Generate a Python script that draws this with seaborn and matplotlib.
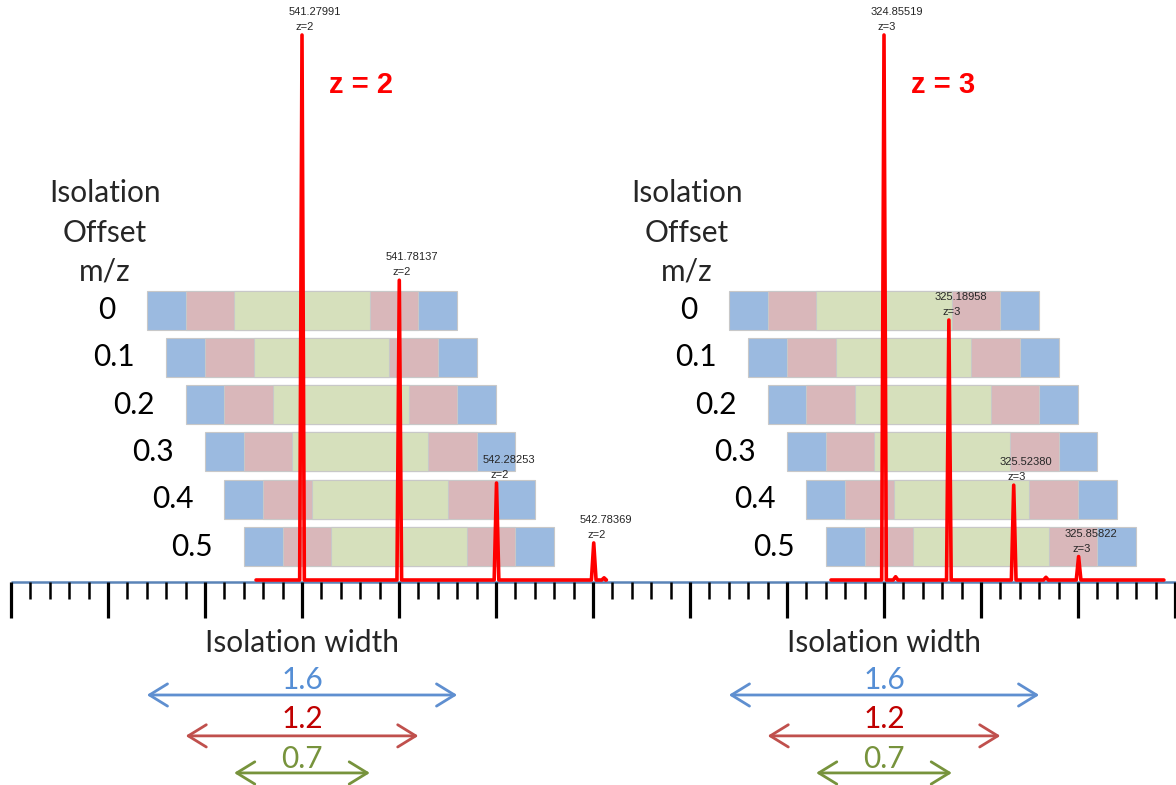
import numpy as np
import pandas as pd
import matplotlib
matplotlib.use("Agg")
import matplotlib.pyplot as plt
import seaborn as sns

# === Data ===
offsets = [0, 0.1, 0.2, 0.3, 0.4, 0.5]          # isolation offset m/z (rows)
iso_widths = [1.6, 1.2, 0.7]                      # isolation widths (outer -> inner)
width_labels = ["1.6", "1.2", "0.7"]

z2_mz = [541.27991, 541.78137, 542.28253, 542.78369]
z2_int = [100, 55, 17.8, 6.8]
z2_noise_mz = [542.837]
z2_noise_int = [0.4]
z2_range = [541.043, 542.845]

z3_mz = [324.85519, 325.18958, 325.52380, 325.85822]
z3_int = [100, 47.7, 17.4, 4.3]
z3_noise_mz = [324.915, 325.69]
z3_noise_int = [0.6, 0.5]
z3_range = [324.582, 326.298]

# === Styles ===
bar_colors = ["#9BBAE0", "#D9B7BA", "#D6E0BC"]
arrow_colors = ["#5F8FD0", "#C0504D", "#77933C"]
label_colors = ["#558ED5", "#C00000", "#77933C"]
spec_red = "#FF0000"
axis_blue = "#5A84B8"

sns.set_style("white")
plt.rcParams["font.family"] = ["Lato", "DejaVu Sans"]

PX = 194.0        # pixels per m/z unit
PY = 5.45         # pixels per intensity unit
W, H = 1176, 785
BASE = 580        # baseline, px from top
FS = 21.5         # main text size


def profile(mz, inten, noise_mz, noise_int, rng, hw=0.012):
    peaks = sorted(zip(list(mz) + list(noise_mz), list(inten) + list(noise_int)))
    xs, ys = [rng[0]], [0]
    for m, h in peaks:
        xs += [m - hw, m, m + hw]
        ys += [0, h, 0]
    xs.append(rng[1])
    ys.append(0)
    return pd.DataFrame({"mz": xs, "intensity": ys})


fig = plt.figure(figsize=(W / 100, H / 100), dpi=100)
ax_l = fig.add_axes([0, 0, 1, 1])
ax_r = fig.add_axes([0, 0, 1, 1])

ylim = (-(H - BASE) / PY, BASE / PY)
panels = [
    (ax_l, z2_mz, z2_int, z2_noise_mz, z2_noise_int, z2_range, 302, "z = 2", 2),
    (ax_r, z3_mz, z3_int, z3_noise_mz, z3_noise_int, z3_range, 884, "z = 3", 3),
]

row_y0 = (BASE - 310) / PY      # row "0" centre
row_step = 47.3 / PY / 0.1      # per m/z of offset
bar_h = 39 / PY
arial = ["Liberation Sans", "DejaVu Sans"]

for ax, mz, inten, nmz, nint, rng, px0, title, z in panels:
    mono = mz[0]
    ax.set_xlim(mono - px0 / PX, mono + (W - px0) / PX)
    ax.set_ylim(*ylim)
    ax.axis("off")
    ax.patch.set_alpha(0)

    # isolation windows, nested outer -> inner
    for off in offsets:
        yc = row_y0 - off * row_step
        for w, c in zip(iso_widths, bar_colors):
            ax.barh(yc, w, left=mono + off - w / 2, height=bar_h, color=c,
                    edgecolor="#C8C8C8", linewidth=0.8, zorder=1)
        ax.text(mono + off - iso_widths[0] / 2 - 0.16, yc, f"{off:g}",
                ha="right", va="center", fontsize=FS, color="black")

    # spectrum
    df = profile(mz, inten, nmz, nint, rng)
    sns.lineplot(data=df, x="mz", y="intensity", ax=ax, sort=False,
                 estimator=None, color=spec_red, lw=2.6, zorder=3)
    ax.set_xlabel("")
    ax.set_ylabel("")
    for m, h in zip(mz, inten):
        ax.annotate(f"{m:.5f}", (m, h), xytext=(9, 13), textcoords="offset points",
                    ha="center", va="bottom", fontsize=8, family=arial, zorder=4)
        ax.annotate(f"z={z}", (m, h), xytext=(2, 2), textcoords="offset points",
                    ha="center", va="bottom", fontsize=8, family=arial, zorder=4)

    ax.text(mono + 59 / PX, (BASE - 85) / PY, title, ha="center", va="center",
            fontsize=21, fontweight="bold", color="#FF0000", family=arial)

    for i, s in enumerate(["Isolation", "Offset", "m/z"]):
        ax.text(mono - 197 / PX, (BASE - 193 - 39.5 * i) / PY, s,
                ha="center", va="center", fontsize=FS)

    ax.text(mono, (BASE - 643) / PY, "Isolation width", ha="center",
            va="center", fontsize=FS)
    arrow_y = [-21.1, -28.6, -35.4]
    text_y = [-18.3, -25.5, -32.8]
    for w, lab, ac, lc, ya, yt in zip(iso_widths, width_labels, arrow_colors,
                                      label_colors, arrow_y, text_y):
        ax.annotate("", xy=(mono - w / 2, ya), xytext=(mono + w / 2, ya),
                    arrowprops=dict(arrowstyle="<->,head_length=1.3,head_width=0.8",
                                    lw=2, color=ac, shrinkA=0, shrinkB=0),
                    annotation_clip=False)
        ax.text(mono, yt, lab, ha="center", va="center", fontsize=FS, color=lc)

# === ruler (drawn once across the whole width) ===
mono = z2_mz[0]
ax_l.plot([mono - 291 / PX, mono + (W - 302) / PX], [-0.35, -0.35],
          color=axis_blue, lw=1.8, zorder=2, solid_capstyle="butt")
for k in range(-15, 46):
    x = mono + k * 0.1
    major = k % 5 == 0
    ax_l.vlines(x, -0.35, -38 / PY if major else -19 / PY, color="black",
                lw=2.3 if major else 1.8, zorder=2, clip_on=False)

fig.savefig("out.png", dpi=100)
